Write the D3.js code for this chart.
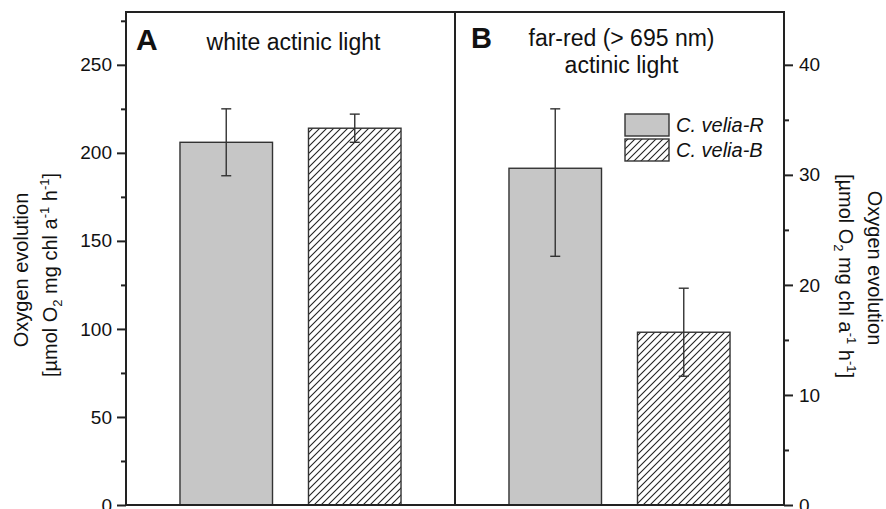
<!DOCTYPE html>
<html>
<head>
<meta charset="utf-8">
<script src="https://cdn.jsdelivr.net/npm/d3@7"></script>
<style>
  body { margin: 0; background: #fff; }
  svg text { font-family: Arial, "Liberation Sans", sans-serif; fill: #111; }
</style>
</head>
<body>
<div id="chart"></div>
<script>
const panels = ['A', 'B']
const strains = ['C. velia-R', 'C. velia-B']
const whiteMeans = [206, 214]
const whiteErrUp = [19, 8]
const whiteErrDown = [19, 8]
const farRedMeans = [30.6, 15.7]
const farRedErrUp = [5.4, 4.0]
const farRedErrDown = [8.0, 4.0]
const leftTicks = [0, 50, 100, 150, 200, 250]
const leftMinor = [25, 75, 125, 175, 225, 275]
const rightTicks = [0, 10, 20, 30, 40]
const rightMinor = [5, 15, 25, 35]

const width = 886, height = 509
const plot = { left: 126, right: 784, top: 12, bottom: 505 }

const svg = d3.select('#chart').append('svg')
    .attr('width', width)
    .attr('height', height)

// hatch pattern for the B strain
svg.append('defs').append('pattern')
    .attr('id', 'hatch')
    .attr('patternUnits', 'userSpaceOnUse')
    .attr('width', 7)
    .attr('height', 7)
    .append('path')
    .attr('d', 'M-1,1 l2,-2 M0,7 l7,-7 M6,8 l2,-2')
    .attr('stroke', '#222')
    .attr('stroke-width', 1.1)

const fills = ['#c6c6c6', 'url(#hatch)']

const yL = d3.scaleLinear().domain([0, 280]).range([plot.bottom, plot.top])
const yR = d3.scaleLinear().domain([0, 44.8]).range([plot.bottom, plot.top])

const xPanel = d3.scaleBand().domain(panels).range([plot.left, plot.right])
const xBar = d3.scaleBand().domain(strains)
    .range([0, xPanel.bandwidth()])
    .paddingInner(0.28)
    .paddingOuter(0.42)

const panelData = [
    { panel: 'A', scale: yL, means: whiteMeans, up: whiteErrUp, down: whiteErrDown },
    { panel: 'B', scale: yR, means: farRedMeans, up: farRedErrUp, down: farRedErrDown }
]

panelData.forEach(p => {
    const g = svg.append('g')
        .attr('transform', 'translate(' + xPanel(p.panel) + ',0)')
    const rows = strains.map((s, i) => ({
        strain: s, mean: p.means[i], up: p.up[i], down: p.down[i], i: i
    }))

    g.selectAll('rect.bar')
        .data(rows)
        .enter()
        .append('rect')
        .attr('class', 'bar')
        .attr('x', d => xBar(d.strain))
        .attr('y', d => p.scale(d.mean))
        .attr('width', xBar.bandwidth())
        .attr('height', d => plot.bottom - p.scale(d.mean))
        .attr('fill', d => fills[d.i])
        .attr('stroke', '#333')
        .attr('stroke-width', 1.4)

    const err = g.selectAll('g.err')
        .data(rows)
        .enter()
        .append('g')
        .attr('stroke', '#333')
        .attr('stroke-width', 1.4)
    const cx = d => xBar(d.strain) + xBar.bandwidth() / 2
    err.append('line')
        .attr('x1', cx).attr('x2', cx)
        .attr('y1', d => p.scale(d.mean + d.up))
        .attr('y2', d => p.scale(d.mean - d.down))
    err.append('line')
        .attr('x1', d => cx(d) - 5).attr('x2', d => cx(d) + 5)
        .attr('y1', d => p.scale(d.mean + d.up))
        .attr('y2', d => p.scale(d.mean + d.up))
    err.append('line')
        .attr('x1', d => cx(d) - 5).attr('x2', d => cx(d) + 5)
        .attr('y1', d => p.scale(d.mean - d.down))
        .attr('y2', d => p.scale(d.mean - d.down))
})

// frame and panel divider
svg.append('rect')
    .attr('x', plot.left).attr('y', plot.top)
    .attr('width', plot.right - plot.left)
    .attr('height', plot.bottom - plot.top)
    .attr('fill', 'none')
    .attr('stroke', '#222')
    .attr('stroke-width', 2)
svg.append('line')
    .attr('x1', xPanel('B')).attr('x2', xPanel('B'))
    .attr('y1', plot.top).attr('y2', plot.bottom)
    .attr('stroke', '#222')
    .attr('stroke-width', 2)

// axes
function styleAxis(sel) {
    sel.select('.domain').remove()
    sel.selectAll('line').attr('stroke', '#222').attr('stroke-width', 2)
    sel.selectAll('text').attr('font-size', 19).attr('fill', '#111')
}
svg.append('g')
    .attr('transform', 'translate(' + plot.left + ',0)')
    .call(d3.axisLeft(yL).tickValues(leftTicks).tickSize(9).tickPadding(5))
    .call(styleAxis)
svg.append('g')
    .attr('transform', 'translate(' + plot.left + ',0)')
    .call(d3.axisLeft(yL).tickValues(leftMinor).tickSize(5).tickFormat(''))
    .call(styleAxis)
svg.append('g')
    .attr('transform', 'translate(' + plot.right + ',0)')
    .call(d3.axisRight(yR).tickValues(rightTicks).tickSize(9).tickPadding(6))
    .call(styleAxis)
svg.append('g')
    .attr('transform', 'translate(' + plot.right + ',0)')
    .call(d3.axisRight(yR).tickValues(rightMinor).tickSize(5).tickFormat(''))
    .call(styleAxis)

// panel titles
svg.append('text').attr('x', 136).attr('y', 50)
    .attr('font-size', 30).attr('font-weight', 'bold').text('A')
svg.append('text').attr('x', 471).attr('y', 48)
    .attr('font-size', 29).attr('font-weight', 'bold').text('B')
svg.append('text').attr('x', xPanel('A') + xPanel.bandwidth() / 2 + 3).attr('y', 50)
    .attr('font-size', 23).attr('text-anchor', 'middle').text('white actinic light')
svg.append('text').attr('x', xPanel('B') + xPanel.bandwidth() / 2 + 2).attr('y', 46)
    .attr('font-size', 23).attr('text-anchor', 'middle').text('far-red (> 695 nm)')
svg.append('text').attr('x', xPanel('B') + xPanel.bandwidth() / 2 + 2).attr('y', 73)
    .attr('font-size', 23).attr('text-anchor', 'middle').text('actinic light')

// legend
const legend = svg.append('g').attr('transform', 'translate(625,114)')
strains.forEach((s, i) => {
    legend.append('rect')
        .attr('x', 0).attr('y', i * 25)
        .attr('width', 44).attr('height', 22)
        .attr('fill', fills[i])
        .attr('stroke', '#333')
        .attr('stroke-width', 1.4)
    legend.append('text')
        .attr('x', 51).attr('y', i * 25 + 18)
        .attr('font-size', 20).attr('font-style', 'italic')
        .text(s)
})

// axis titles
function unitLabel(t) {
    t.append('tspan').text('[\u00b5mol O')
    t.append('tspan').attr('font-size', 13).attr('dy', 5).text('2')
    t.append('tspan').attr('dy', -5).text(' mg chl a')
    t.append('tspan').attr('font-size', 13).attr('dy', -8).text('-1')
    t.append('tspan').attr('dy', 8).text(' h')
    t.append('tspan').attr('font-size', 13).attr('dy', -8).text('-1')
    t.append('tspan').attr('dy', 8).text(']')
}
svg.append('text')
    .attr('transform', 'translate(28,270) rotate(-90)')
    .attr('text-anchor', 'middle').attr('font-size', 20)
    .text('Oxygen evolution')
unitLabel(svg.append('text')
    .attr('transform', 'translate(57,275) rotate(-90)')
    .attr('text-anchor', 'middle').attr('font-size', 20))
svg.append('text')
    .attr('transform', 'translate(868,268) rotate(90)')
    .attr('text-anchor', 'middle').attr('font-size', 20)
    .text('Oxygen evolution')
unitLabel(svg.append('text')
    .attr('transform', 'translate(839,276) rotate(90)')
    .attr('text-anchor', 'middle').attr('font-size', 20))
</script>
</body>
</html>
